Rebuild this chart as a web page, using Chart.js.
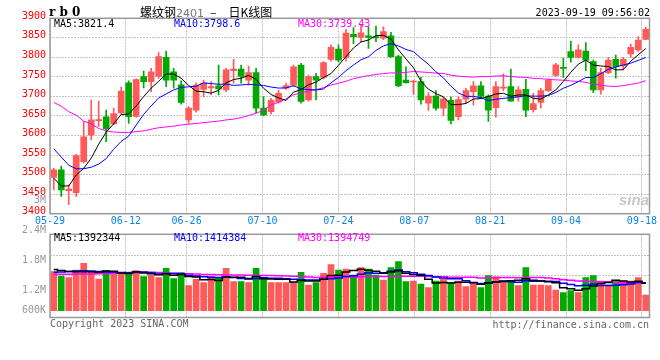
<!DOCTYPE html>
<html><head><meta charset="utf-8">
<script src="https://cdn.jsdelivr.net/npm/chart.js@4/dist/chart.umd.min.js"></script>
<style>
html,body{margin:0;padding:0;background:#fff;}
#wrap{position:relative;width:660px;height:360px;overflow:hidden;background:#fff;}
canvas{position:absolute;left:0;top:0;}
.t{position:absolute;white-space:pre;line-height:1;}
</style></head><body>
<div id="wrap">
<canvas id="price" width="660" height="360"></canvas>
<canvas id="vol" width="660" height="360"></canvas>
<div class="t" style="left:49px;top:5px;font:bold 12px 'DejaVu Serif';color:#000">r b 0</div>
<div class="t" style="left:140px;top:3px;font:12px 'Noto Sans CJK SC';color:#000">螺纹钢<span style="color:#777;font:11px 'DejaVu Sans'">2401</span><span style="margin:0 12px 0 6px">–</span>日K线图</div>
<div class="t" style="right:10px;top:7px;font:10px 'DejaVu Sans Mono';color:#000">2023-09-19 09:56:02</div>
<div class="t" style="left:50px;top:318px;font:10px 'DejaVu Sans Mono';color:#666">Copyright 2023 SINA.COM</div>
<div class="t" style="right:11px;top:319px;font:10px 'DejaVu Sans Mono';color:#666">http://finance.sina.com.cn</div>
<div class="t" style="left:619px;top:191px;font:italic bold 15px 'Liberation Sans';color:#c8c8c8">sina</div>
</div>
<script>
// ---------------- data ----------------
const dates = ['05-29','05-30','05-31','06-01','06-02','06-05','06-06','06-07','06-08','06-09',
'06-12','06-13','06-14','06-15','06-16','06-19','06-20','06-21','06-26','06-27',
'06-28','06-29','06-30','07-03','07-04','07-05','07-06','07-07','07-10','07-11',
'07-12','07-13','07-14','07-17','07-18','07-19','07-20','07-21','07-24','07-25',
'07-26','07-27','07-28','07-31','08-01','08-02','08-03','08-04','08-07','08-08',
'08-09','08-10','08-11','08-14','08-15','08-16','08-17','08-18','08-21','08-22',
'08-23','08-24','08-25','08-28','08-29','08-30','08-31','09-01','09-04','09-05',
'09-06','09-07','09-08','09-11','09-12','09-13','09-14','09-15','09-18','09-19'];
const dateTickIndex = [0,10,18,28,38,48,58,68,78];

const open = [3493,3512,3459,3454,3533,3601,3638,3648,3630,3658,
3735,3649,3751,3738,3751,3800,3763,3730,3640,3665,
3718,3722,3727,3717,3766,3770,3742,3761,3670,3661,
3686,3721,3729,3780,3691,3751,3749,3795,3821,3800,
3859,3851,3855,3853,3849,3855,3802,3742,3737,3738,
3683,3701,3670,3690,3648,3693,3712,3727,3701,3671,
3721,3725,3698,3718,3666,3685,3715,3754,3774,3815,
3800,3816,3789,3717,3761,3795,3778,3809,3819,3846];
const high = [3516,3522,3474,3552,3636,3691,3688,3665,3670,3724,
3740,3745,3765,3772,3812,3816,3772,3740,3674,3735,
3742,3738,3780,3772,3795,3780,3778,3772,3700,3695,
3716,3734,3780,3785,3755,3759,3789,3832,3832,3872,
3876,3883,3878,3880,3878,3864,3806,3776,3741,3749,
3710,3715,3698,3699,3699,3721,3738,3738,3704,3738,
3758,3770,3725,3744,3708,3721,3745,3785,3798,3842,
3832,3838,3793,3772,3800,3806,3800,3834,3853,3877];
const low = [3461,3444,3423,3444,3530,3589,3623,3584,3628,3653,
3631,3647,3722,3712,3746,3725,3721,3680,3631,3660,
3699,3704,3704,3712,3734,3734,3729,3657,3650,3655,
3683,3718,3725,3683,3688,3691,3745,3790,3788,3790,
3835,3840,3823,3840,3845,3800,3725,3734,3705,3680,
3664,3665,3650,3630,3640,3682,3678,3697,3636,3647,
3715,3688,3688,3648,3660,3670,3713,3751,3749,3788,
3798,3766,3710,3706,3758,3747,3768,3800,3815,3845];
const close = [3512,3461,3463,3549,3597,3640,3641,3617,3656,3714,
3648,3743,3738,3763,3802,3742,3742,3685,3670,3729,
3734,3725,3719,3768,3770,3751,3761,3670,3653,3690,
3708,3728,3776,3687,3751,3742,3787,3826,3793,3862,
3853,3863,3851,3850,3866,3802,3727,3735,3739,3691,
3701,3670,3694,3639,3692,3715,3727,3700,3665,3725,
3724,3688,3717,3665,3682,3715,3741,3781,3772,3800,
3819,3793,3717,3761,3793,3776,3795,3826,3844,3872];

const ma5 = [3491,3471,3471,3499,3516.4,3542,3578,3608.8,3630.2,3653.6,
3655.2,3675.6,3699.8,3721.2,3738.8,3757.6,3757.4,3746.8,3728.2,3713.6,
3712,3708.6,3715.4,3735,3743.2,3746.6,3753.8,3744,3721,3705,
3696.4,3689.8,3711,3717.8,3730,3736.8,3748.6,3758.6,3779.8,3802,
3824.2,3839.4,3844.4,3855.8,3856.6,3846.4,3819.2,3796,3773.8,3738.8,
3718.6,3707.2,3699,3679,3679.2,3682,3693.4,3694.6,3699.8,3706.4,
3708.2,3700.4,3703.8,3703.8,3695.2,3693.4,3704,3716.8,3738.2,3761.8,
3782.6,3793,3780.2,3778,3776.6,3768,3768.4,3790.2,3806.8,3822.6];
const ma10 = [3566,3545,3524,3515,3515,3519,3527,3541,3565,3585,
3598.6,3626.8,3654.3,3675.7,3696.2,3706.4,3716.5,3723.3,3724.7,3726.2,
3734.8,3733,3731.1,3731.6,3728.4,3729.3,3731.2,3729.7,3728,3724.1,
3721.5,3721.8,3727.5,3719.4,3717.5,3716.6,3719.2,3734.8,3748.8,3766,
3780.5,3794,3801.5,3817.8,3829.3,3835.3,3829.3,3820.2,3814.8,3797.7,
3782.5,3763.2,3747.5,3726.4,3709,3700.3,3700.3,3696.8,3689.4,3692.8,
3695.1,3696.9,3699.2,3701.8,3700.8,3700.8,3702.2,3710.3,3721,3728.5,
3738,3748.5,3748.5,3758.1,3769.2,3775.3,3780.7,3785.2,3792.4,3799.6];
const ma30 = [3685,3675,3661,3652,3637,3630,3618,3612,3609,3608,
3608,3610,3612,3616,3620,3622,3624,3627,3629,3631,
3633,3635,3637,3640,3642,3646,3651,3657,3665,3678.4,
3685,3693.9,3704.3,3708.9,3714,3717.4,3722.3,3729.3,3733.8,3738.8,
3745.6,3749.6,3753.4,3756.3,3758.4,3760.4,3759.9,3761.6,3763.9,3762.6,
3761.5,3759.7,3758.8,3754.5,3751.9,3750.7,3749.6,3750.6,3751,3752.2,
3752.7,3751.4,3749.4,3748.7,3746.4,3745.5,3743.9,3742.4,3741.7,3739.7,
3738.5,3736.2,3731.7,3728.8,3726.3,3725.5,3727.7,3730.8,3734.3,3740.3];

// volume, thousands of lots
const volumeK = [1624,1538,1504,1658,1792,1624,1478,1644,1624,1612,
1578,1644,1524,1558,1504,1692,1484,1604,1344,1472,
1404,1524,1504,1692,1424,1424,1404,1692,1472,1404,
1404,1404,1404,1612,1358,1404,1592,1764,1658,1678,
1558,1704,1678,1558,1458,1704,1824,1424,1438,1378,
1304,1438,1472,1404,1438,1324,1392,1304,1544,1524,
1424,1424,1344,1704,1358,1358,1344,1258,1204,1244,
1204,1504,1544,1438,1358,1424,1438,1438,1504,1158];
const volMA5K = [1670,1650,1630,1625,1623,1623,1611,1639,1632,1596,
1587,1620,1596,1583,1562,1584,1552,1568,1526,1519,
1462,1470,1450,1519,1510,1514,1490,1527,1483,1479,
1475,1475,1418,1446,1436,1436,1474,1546,1555,1619,
1650,1672,1655,1635,1591,1620,1644,1594,1570,1554,
1474,1396,1406,1399,1411,1415,1406,1372,1400,1418,
1438,1444,1452,1484,1451,1438,1422,1404,1304,1282,
1251,1283,1340,1387,1410,1454,1440,1419,1432,1392];
const volMA10K = [1612,1620,1630,1640,1644,1640,1630,1620,1612,1610,
1605,1616,1618,1608,1579,1586,1586,1582,1554,1540,
1523,1511,1509,1522,1514,1488,1480,1488,1501,1494,
1494,1482,1472,1464,1458,1456,1475,1482,1500,1528,
1543,1573,1601,1595,1605,1635,1658,1624,1602,1572,
1547,1520,1500,1484,1482,1444,1401,1389,1400,1414,
1426,1425,1412,1442,1434,1438,1433,1428,1394,1366,
1344,1352,1372,1346,1346,1352,1362,1380,1410,1401];
const volMA30K = [1572,1574,1575,1576,1578,1580,1584,1590,1596,1602,
1606,1610,1612,1610,1606,1600,1594,1588,1582,1576,
1570,1566,1562,1560,1558,1556,1554,1552,1550,1548,
1541,1536,1533,1532,1517,1510,1514,1518,1519,1521,
1520,1522,1527,1527,1526,1526,1538,1532,1535,1532,
1528,1525,1524,1515,1515,1512,1511,1498,1501,1505,
1506,1506,1504,1507,1507,1506,1497,1481,1465,1451,
1439,1433,1428,1424,1421,1411,1399,1399,1401,1394];

const priceTicks = {min: 3400, max: 3900, step: 50};
const volScale = {min: 708, max: 2372, step: 416, base: 844};
const volTickValues = [3000, 2400, 1800, 1200, 600];
const volTickLabels = ['3M', '2.4M', '1.8M', '1.2M', '600K'];
const priceLegendText = ['MA5:3821.4', 'MA10:3798.6', 'MA30:3739.43'];
const volLegendText = ['MA5:1392344', 'MA10:1414384', 'MA30:1394749'];

// ---------------- styles ----------------
const RED = '#ff5a5a', GREEN = '#00a800';
const MA_COLORS = ['#000000', '#0000ff', '#ff00ff'];
const MONO = 'DejaVu Sans Mono';
const candleColors = close.map((c, i) => c >= open[i] ? RED : GREEN);
const N = dates.length;

const framePlugin = {
  id: 'frame',
  afterDraw(chart) {
    const {ctx, chartArea: a} = chart;
    ctx.save();
    ctx.strokeStyle = '#999';
    ctx.lineWidth = 1.5;
    ctx.strokeRect(a.left, a.top, a.right - a.left, a.bottom - a.top);
    ctx.restore();
  }
};
function legendPlugin(texts, dy) {
  return {
    id: 'maLegend',
    afterDraw(chart) {
      const {ctx, chartArea: a} = chart;
      ctx.save();
      ctx.font = '10px "' + MONO + '"';
      ctx.textBaseline = 'middle';
      ctx.textAlign = 'left';
      const offs = [4, 124, 248];
      texts.forEach((t, k) => {
        ctx.fillStyle = MA_COLORS[k];
        ctx.fillText(t, a.left + offs[k], a.top + dy);
      });
      ctx.restore();
    }
  };
}
const volLabelPlugin = {
  id: 'volLabels',
  afterDraw(chart) {
    const {ctx, chartArea: a, scales} = chart;
    ctx.save();
    ctx.font = '10px "' + MONO + '"';
    ctx.fillStyle = '#999';
    ctx.textAlign = 'right';
    ctx.textBaseline = 'middle';
    volTickValues.forEach((v, k) => {
      let py = scales.y.getPixelForValue(v) - 2.5;
      py = Math.min(py, a.bottom - 7.5);
      ctx.fillText(volTickLabels[k], a.left - 4, py);
    });
    ctx.restore();
  }
};

function maLine(data, k, w, stepped) {
  return {type: 'line', data, borderColor: MA_COLORS[k], borderWidth: w, pointRadius: 0,
    tension: 0, stepped: stepped, order: 0, fill: false};
}
const gridOpts = {display: true, drawOnChartArea: true, drawTicks: false, offset: false,
  color: '#c4c4c4', lineWidth: 1};
function dateAxis(showLabels) {
  return {
    type: 'linear', position: 'bottom', min: 0, max: N - 1, offset: false,
    afterBuildTicks: ax => { ax.ticks = dateTickIndex.map(v => ({value: v})); },
    afterFit: ax => { ax.height = showLabels ? 16 : 0; },
    grid: gridOpts,
    border: {display: false, dash: [2, 1]},
    ticks: {display: showLabels, autoSkip: false, maxRotation: 0, padding: 2, color: '#0a84e6',
      font: {family: MONO, size: 10}, callback: v => dates[v]}
  };
}

Chart.defaults.font.family = MONO;

new Chart(document.getElementById('price'), {
  type: 'bar',
  data: {
    labels: dates,
    datasets: [
      maLine(ma5, 0, 1, false),
      maLine(ma10, 1, 1, false),
      maLine(ma30, 2, 1, false),
      {label: 'body', data: open.map((o, i) => [o, close[i]]), backgroundColor: candleColors,
        barThickness: 6, minBarLength: 1, grouped: false, order: 1, borderWidth: 0},
      {label: 'wick', data: low.map((l, i) => [l, high[i]]), backgroundColor: candleColors,
        barThickness: 1, grouped: false, order: 2, borderWidth: 0}
    ]
  },
  options: {
    responsive: false, animation: false, devicePixelRatio: 1,
    layout: {padding: {top: 18.3, right: 10.5, bottom: 130.3, left: 0}},
    plugins: {legend: {display: false}, tooltip: {enabled: false}},
    scales: {
      x: {type: 'category', display: false, offset: true},
      xd: dateAxis(true),
      y: {type: 'linear', position: 'left', min: priceTicks.min, max: priceTicks.max,
        afterFit: ax => { ax.width = 50; },
        ticks: {stepSize: priceTicks.step, color: '#ff0000', padding: 4, labelOffset: -2,
          font: {family: MONO, size: 10}, callback: v => String(v)},
        grid: gridOpts,
        border: {display: false, dash: [2, 1]}}
    }
  },
  plugins: [framePlugin, legendPlugin(priceLegendText, 6)]
});

new Chart(document.getElementById('vol'), {
  type: 'bar',
  data: {
    labels: dates,
    datasets: [
      maLine(volMA5K, 0, 1.5, 'middle'),
      maLine(volMA10K, 1, 1.5, 'middle'),
      maLine(volMA30K, 2, 1.5, 'middle'),
      {label: 'vol', data: volumeK.map(v => [volScale.base, v]), backgroundColor: candleColors,
        barThickness: 6, grouped: false, order: 1, borderWidth: 0}
    ]
  },
  options: {
    responsive: false, animation: false, devicePixelRatio: 1,
    layout: {padding: {top: 234.3, right: 10.5, bottom: 42.5, left: 0}},
    plugins: {legend: {display: false}, tooltip: {enabled: false}},
    scales: {
      x: {type: 'category', display: false, offset: true},
      xd: dateAxis(false),
      y: {type: 'linear', position: 'left', min: volScale.min, max: volScale.max,
        afterFit: ax => { ax.width = 50; },
        ticks: {display: false, stepSize: volScale.step},
        grid: gridOpts,
        border: {display: false, dash: [2, 1]}}
    }
  },
  plugins: [framePlugin, legendPlugin(volLegendText, 4.5), volLabelPlugin]
});
</script>
</body></html>
